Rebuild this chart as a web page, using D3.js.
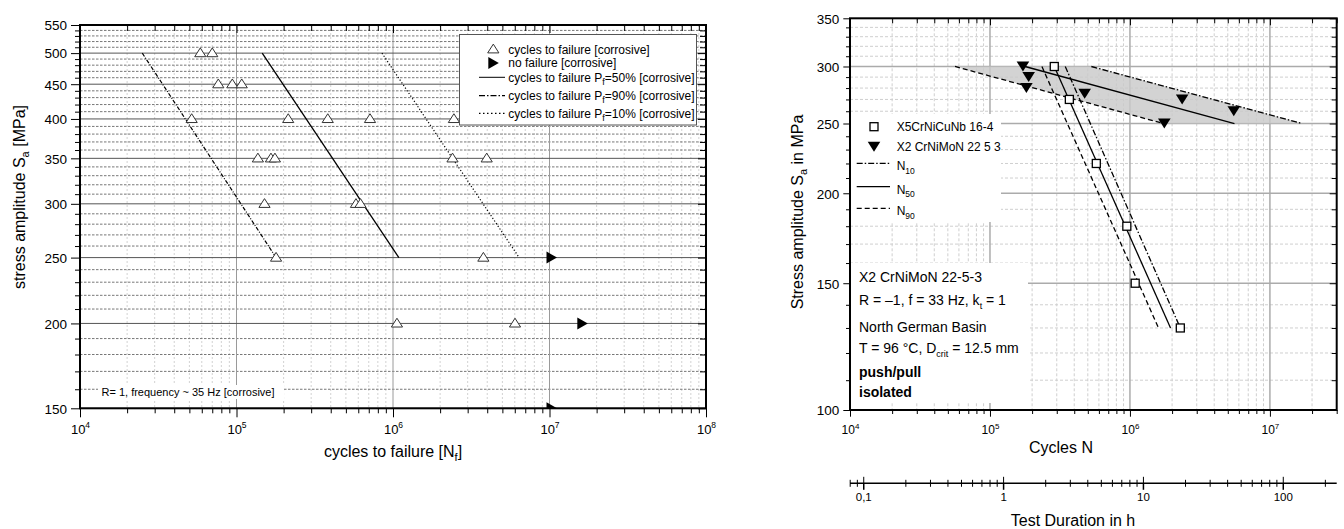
<!DOCTYPE html>
<html>
<head>
<meta charset="utf-8">
<script src="https://cdn.jsdelivr.net/npm/d3@7"></script>
<style>
html,body{margin:0;padding:0;background:#fff;}
svg{display:block;}
text{font-family:"Liberation Sans",Arial,Helvetica,sans-serif;fill:#000;}
</style>
</head>
<body>
<svg id="chart" width="1344" height="529"></svg>
<script>
// ---------------- Left chart data ----------------
const leftStressTicks = [150, 200, 250, 300, 350, 400, 450, 500, 550];
const leftCycleTicks = [1e4, 1e5, 1e6, 1e7, 1e8];
const leftCycleExps = ["4", "5", "6", "7", "8"];
const failureStress = [500, 500, 450, 450, 450, 400, 400, 400, 400, 400, 350, 350, 350, 350, 350, 300, 300, 300, 250, 250, 200, 200];
const failureCycles = [5.87e4, 7.0e4, 7.65e4, 9.4e4, 1.08e5, 5.17e4, 2.14e5, 3.83e5, 7.13e5, 2.45e6, 1.37e5, 1.66e5, 1.76e5, 2.4e6, 3.97e6, 1.51e5, 5.8e5, 6.2e5, 1.79e5, 3.78e6, 1.06e6, 6.02e6];
const runoutStress = [250, 200, 150];
const runoutCycles = [1.03e7, 1.62e7, 1.03e7];
const p50Stress = [500, 250];
const p50Cycles = [1.46e5, 1.09e6];
const p90Stress = [500, 250];
const p90Cycles = [2.5e4, 1.79e5];
const p10Stress = [500, 250];
const p10Cycles = [8.5e5, 6.4e6];

// ---------------- Right chart data ----------------
const rightStressTicks = [100, 150, 200, 250, 300, 350];
const rightCycleTicks = [1e4, 1e5, 1e6, 1e7];
const rightCycleExps = ["4", "5", "6", "7"];
const durationTicks = [0.1, 1, 10, 100];
const durationLabels = ["0,1", "1", "10", "100"];
const x5Stress = [300, 270, 220, 180, 150, 130];
const x5Cycles = [2.88e5, 3.69e5, 5.75e5, 9.5e5, 1.09e6, 2.29e6];
const x2Stress = [300, 290, 280, 275, 270, 260, 250];
const x2Cycles = [1.72e5, 1.89e5, 1.82e5, 4.75e5, 2.36e6, 5.52e6, 1.76e6];
const x5LineStress = [300, 130];
const x5N10Cycles = [3.45e5, 2.29e6];
const x5N50Cycles = [2.88e5, 1.95e6];
const x5N90Cycles = [2.35e5, 1.60e6];
const x2LineStress = [300, 250];
const x2N10Cycles = [5.3e5, 1.70e7];
const x2N50Cycles = [1.78e5, 5.58e6];
const x2N90Cycles = [5.63e4, 1.73e6];

// ---------------- helpers ----------------
const svg = d3.select("#chart");
const defs = svg.append("defs");
function addClip(id, x0, y0, x1, y1) {
  defs.append("clipPath").attr("id", id).append("rect")
    .attr("x", x0).attr("y", y0).attr("width", x1 - x0).attr("height", y1 - y0);
}
function logMinor(lo, hi) {
  const out = [];
  for (let e = Math.floor(Math.log10(lo)); e <= Math.ceil(Math.log10(hi)); e++) {
    for (let k = 2; k <= 9; k++) {
      const v = +(k * Math.pow(10, e)).toPrecision(6);
      if (v >= lo * 0.9999 && v <= hi * 1.0001) out.push(v);
    }
  }
  return out;
}
function logAll(lo, hi) {
  const out = [];
  for (let e = Math.floor(Math.log10(lo)); e <= Math.ceil(Math.log10(hi)); e++) {
    for (let k = 1; k <= 9; k++) {
      const v = +(k * Math.pow(10, e)).toPrecision(6);
      if (v >= lo * 0.9999 && v <= hi * 1.0001) out.push(v);
    }
  }
  return out;
}
function linMinor(lo, hi, step, major) {
  const out = [];
  for (let v = lo; v <= hi + 1e-9; v += step) if (v % major !== 0) out.push(v);
  return out;
}
function styleAxis(g) {
  g.select(".domain").remove();
  g.selectAll(".tick line").attr("stroke", "#000").attr("stroke-width", 1);
  g.attr("font-family", null);
  return g;
}
function zip(xs, ys) { return xs.map((x, i) => [x, ys[i]]); }

function drawGrid(g, xS, yS, box, xMin, xMaj, yMin, yMaj, st) {
  g.selectAll(null).data(xMin).join("line")
    .attr("x1", d => xS(d)).attr("x2", d => xS(d)).attr("y1", box.y0).attr("y2", box.y1)
    .attr("stroke", st.vMinor).attr("stroke-width", 1).attr("stroke-dasharray", st.vDash);
  g.selectAll(null).data(yMin).join("line")
    .attr("y1", d => yS(d)).attr("y2", d => yS(d)).attr("x1", box.x0).attr("x2", box.x1)
    .attr("stroke", st.hMinor).attr("stroke-width", 1).attr("stroke-dasharray", st.hDash);
  g.selectAll(null).data(xMaj).join("line")
    .attr("x1", d => xS(d)).attr("x2", d => xS(d)).attr("y1", box.y0).attr("y2", box.y1)
    .attr("stroke", st.vMajor).attr("stroke-width", st.majW);
  g.selectAll(null).data(yMaj).join("line")
    .attr("y1", d => yS(d)).attr("y2", d => yS(d)).attr("x1", box.x0).attr("x2", box.x1)
    .attr("stroke", st.hMajor).attr("stroke-width", st.majW);
}

function drawAxes(xS, yS, box, xMajor, xExps, yMajor, yMinorAll, xMinorAll, o) {
  // bottom minor
  styleAxis(svg.append("g").attr("transform", `translate(0,${box.y1})`)
    .call(d3.axisBottom(xS).tickValues(xMinorAll).tickSize(o.minOut).tickFormat("")));
  // bottom major with labels
  const bx = styleAxis(svg.append("g").attr("transform", `translate(0,${box.y1})`)
    .call(d3.axisBottom(xS).tickValues(xMajor).tickSize(o.majOut).tickFormat(() => "")));
  bx.selectAll(".tick text").attr("y", o.xLabY).attr("dy", null).attr("font-size", o.xLabSize)
    .each(function (d, i) {
      const t = d3.select(this);
      t.append("tspan").text("10");
      t.append("tspan").attr("dy", -o.xLabSize * 0.45).attr("font-size", o.supSize).text(xExps[i]);
    });
  // top inward
  styleAxis(svg.append("g").attr("transform", `translate(0,${box.y0})`)
    .call(d3.axisBottom(xS).tickValues(xMinorAll).tickSize(o.minIn).tickFormat("")));
  styleAxis(svg.append("g").attr("transform", `translate(0,${box.y0})`)
    .call(d3.axisBottom(xS).tickValues(xMajor).tickSize(o.majIn).tickFormat("")));
  // left minor
  styleAxis(svg.append("g").attr("transform", `translate(${box.x0},0)`)
    .call(d3.axisLeft(yS).tickValues(yMinorAll).tickSize(o.minOut).tickFormat("")));
  const ly = styleAxis(svg.append("g").attr("transform", `translate(${box.x0},0)`)
    .call(d3.axisLeft(yS).tickValues(yMajor).tickSize(o.majOut).tickPadding(4).tickFormat(d3.format("d"))));
  ly.selectAll(".tick text").attr("font-size", o.yLabSize).attr("dy", "0.36em");
  // right inward
  styleAxis(svg.append("g").attr("transform", `translate(${box.x1},0)`)
    .call(d3.axisLeft(yS).tickValues(yMinorAll).tickSize(o.minIn).tickFormat("")));
  styleAxis(svg.append("g").attr("transform", `translate(${box.x1},0)`)
    .call(d3.axisLeft(yS).tickValues(yMajor).tickSize(o.majIn).tickFormat("")));
  // frame
  svg.append("rect").attr("x", box.x0).attr("y", box.y0)
    .attr("width", box.x1 - box.x0).attr("height", box.y1 - box.y0)
    .attr("fill", "none").attr("stroke", "#000").attr("stroke-width", 2);
}

// =============== LEFT CHART ===============
const L = { x0: 80, x1: 706, y0: 25, y1: 408.3 };
const xL = d3.scaleLog().domain([1e4, 1e8]).range([L.x0, L.x1]);
const yL = d3.scaleLog().domain([150, 550]).range([L.y1, L.y0]);
addClip("clipL", L.x0, L.y0, L.x1, L.y1);

const gL = svg.append("g").attr("clip-path", "url(#clipL)");
drawGrid(gL, xL, yL, L,
  logMinor(1e4, 1e8), leftCycleTicks,
  linMinor(150, 550, 10, 50), leftStressTicks,
  { vMinor: "#d2d2d2", vDash: "2,2", hMinor: "#777", hDash: "2.5,1.5", vMajor: "#9a9a9a", hMajor: "#555", majW: 1 });

const lineL = d3.line().x(d => xL(d[0])).y(d => yL(d[1]));
gL.append("path").attr("d", lineL(zip(p50Cycles, p50Stress))).attr("fill", "none").attr("stroke", "#000").attr("stroke-width", 1.3);
gL.append("path").attr("d", lineL(zip(p90Cycles, p90Stress))).attr("fill", "none").attr("stroke", "#000").attr("stroke-width", 1.2).attr("stroke-dasharray", "4,1.5,1,1.5");
gL.append("path").attr("d", lineL(zip(p10Cycles, p10Stress))).attr("fill", "none").attr("stroke", "#000").attr("stroke-width", 1.2).attr("stroke-dasharray", "1.2,2");

const upTri = "M0,-5.2L5.6,3.6L-5.6,3.6Z";
const rightTri = "M-5,-6L5.5,0L-5,6Z";
gL.selectAll(".fail").data(zip(failureCycles, failureStress)).join("path")
  .attr("d", upTri).attr("transform", d => `translate(${xL(d[0])},${yL(d[1])})`)
  .attr("fill", "#fff").attr("stroke", "#333").attr("stroke-width", 1);
gL.selectAll(".run").data(zip(runoutCycles, runoutStress)).join("path")
  .attr("d", rightTri).attr("transform", d => `translate(${xL(d[0])},${yL(d[1])})`)
  .attr("fill", "#000");

// annotation
gL.append("rect").attr("x", 98).attr("y", 385).attr("width", 186).attr("height", 14).attr("fill", "#fff");
svg.append("text").attr("x", 101.5).attr("y", 396).attr("font-size", 11).text("R= 1, frequency ~ 35 Hz [corrosive]");

// legend
const lgL = svg.append("g");
lgL.append("rect").attr("x", 459.5).attr("y", 34.5).attr("width", 237).attr("height", 90.5)
  .attr("fill", "#fff").attr("stroke", "#555").attr("stroke-width", 1);
const legRowsL = [49.3, 63, 77.3, 95.7, 113.3];
lgL.append("path").attr("d", upTri).attr("transform", `translate(493.3,${legRowsL[0]})`).attr("fill", "#fff").attr("stroke", "#333");
lgL.append("path").attr("d", rightTri).attr("transform", `translate(493.3,${legRowsL[1]})`).attr("fill", "#000");
lgL.append("line").attr("x1", 479).attr("x2", 505).attr("y1", legRowsL[2]).attr("y2", legRowsL[2]).attr("stroke", "#000").attr("stroke-width", 1);
lgL.append("line").attr("x1", 479).attr("x2", 505).attr("y1", legRowsL[3]).attr("y2", legRowsL[3]).attr("stroke", "#000").attr("stroke-width", 1.2).attr("stroke-dasharray", "6,2,1.5,2");
lgL.append("line").attr("x1", 479).attr("x2", 505).attr("y1", legRowsL[4]).attr("y2", legRowsL[4]).attr("stroke", "#000").attr("stroke-width", 1.2).attr("stroke-dasharray", "1.5,2.5");
lgL.append("text").attr("x", 508.3).attr("y", legRowsL[0] + 4.2).attr("font-size", 12).text("cycles to failure [corrosive]");
lgL.append("text").attr("x", 508.3).attr("y", legRowsL[1] + 4.2).attr("font-size", 12).text("no failure [corrosive]");
[["50", 2], ["90", 3], ["10", 4]].forEach(([p, r]) => {
  const t = lgL.append("text").attr("x", 508.3).attr("y", legRowsL[r] + 4.2).attr("font-size", 12);
  t.append("tspan").text("cycles to failure P");
  t.append("tspan").attr("dy", 3).attr("font-size", 9).text("f");
  t.append("tspan").attr("dy", -3).text(`=${p}% [corrosive]`);
});

drawAxes(xL, yL, L, leftCycleTicks, leftCycleExps, leftStressTicks, linMinor(150, 550, 10, 50), logMinor(1e4, 1e8),
  { minOut: 5, majOut: 9, minIn: 6, majIn: 8, xLabY: 25.7, xLabSize: 13, supSize: 8.5, yLabSize: 13.5 });

// titles
const tl = svg.append("text").attr("text-anchor", "middle").attr("font-size", 16)
  .attr("transform", "translate(25,197) rotate(-90)");
tl.append("tspan").text("stress amplitude S");
tl.append("tspan").attr("dy", 4).attr("font-size", 11).text("a");
tl.append("tspan").attr("dy", -4).text(" [MPa]");
const txl = svg.append("text").attr("text-anchor", "middle").attr("font-size", 16).attr("x", 393).attr("y", 457);
txl.append("tspan").text("cycles to failure [N");
txl.append("tspan").attr("dy", 4).attr("font-size", 11).text("f");
txl.append("tspan").attr("dy", -4).text("]");

// =============== RIGHT CHART ===============
const R = { x0: 850, x1: 1336.7, y0: 18.3, y1: 410 };
const xR = d3.scaleLog().domain([1e4, 3e7]).range([R.x0, R.x1]);
const yR = d3.scaleLog().domain([100, 350]).range([R.y1, R.y0]);
const xD = d3.scaleLog().domain([0.0804, 243]).range([R.x0, R.x1]);
addClip("clipR", R.x0, R.y0, R.x1, R.y1);

const gR = svg.append("g").attr("clip-path", "url(#clipR)");
drawGrid(gR, xR, yR, R,
  logMinor(1e4, 3e7), rightCycleTicks,
  linMinor(100, 350, 10, 50), rightStressTicks,
  { vMinor: "#cfcfcf", vDash: "3,2", hMinor: "#cfcfcf", hDash: "3,2", vMajor: "#ababab", hMajor: "#ababab", majW: 1.5 });

const lineR = d3.line().x(d => xR(d[0])).y(d => yR(d[1]));
// scatter band between N90 and N10 of X2 CrNiMoN
const band = [[x2N90Cycles[0], x2LineStress[0]], [x2N10Cycles[0], x2LineStress[0]], [x2N10Cycles[1], x2LineStress[1]], [x2N90Cycles[1], x2LineStress[1]]];
gR.append("path").attr("d", lineR(band) + "Z").attr("fill", "#c9c9c9").attr("opacity", 0.82);

const dashDot = "6,2,1.5,2";
const dashed = "5,3";
function rLine(cyc, str, dash) {
  gR.append("path").attr("d", lineR(zip(cyc, str))).attr("fill", "none").attr("stroke", "#000")
    .attr("stroke-width", 1.3).attr("stroke-dasharray", dash);
}
rLine(x2N10Cycles, x2LineStress, dashDot);
rLine(x2N50Cycles, x2LineStress, null);
rLine(x2N90Cycles, x2LineStress, dashed);
rLine(x5N10Cycles, x5LineStress, dashDot);
rLine(x5N50Cycles, x5LineStress, null);
rLine(x5N90Cycles, x5LineStress, dashed);

const downTri = "M-6.3,-5L6.3,-5L0,5Z";
gR.selectAll(".x2").data(zip(x2Cycles, x2Stress)).join("path")
  .attr("d", downTri).attr("transform", d => `translate(${xR(d[0])},${yR(d[1])})`).attr("fill", "#000");
gR.selectAll(".x5").data(zip(x5Cycles, x5Stress)).join("rect")
  .attr("x", d => xR(d[0]) - 4).attr("y", d => yR(d[1]) - 4).attr("width", 8).attr("height", 8)
  .attr("fill", "#fff").attr("stroke", "#000").attr("stroke-width", 1.3);

// legend
gR.append("rect").attr("x", 850).attr("y", 114).attr("width", 151).attr("height", 108).attr("fill", "#fff");
const lgR = svg.append("g");
lgR.append("rect").attr("x", 870).attr("y", 122.7).attr("width", 8).attr("height", 8).attr("fill", "#fff").attr("stroke", "#000").attr("stroke-width", 1.3);
lgR.append("path").attr("d", downTri).attr("transform", "translate(874,146.7)").attr("fill", "#000");
lgR.append("text").attr("x", 896.7).attr("y", 131).attr("font-size", 12).text("X5CrNiCuNb 16-4");
lgR.append("text").attr("x", 896.7).attr("y", 151).attr("font-size", 12).text("X2 CrNiMoN 22 5 3");
[[163.3, dashDot, "10"], [186.7, null, "50"], [208.3, dashed, "90"]].forEach(([y, dash, sub]) => {
  lgR.append("line").attr("x1", 856.7).attr("x2", 890).attr("y1", y).attr("y2", y)
    .attr("stroke", "#000").attr("stroke-width", 1.3).attr("stroke-dasharray", dash);
  const t = lgR.append("text").attr("x", 896.7).attr("y", y + 7).attr("font-size", 12);
  t.append("tspan").text("N");
  t.append("tspan").attr("dy", 3.5).attr("font-size", 8.5).text(sub);
});

// annotation block
gR.append("rect").attr("x", 850).attr("y", 263).attr("width", 178).attr("height", 140).attr("fill", "#fff");
const ann = svg.append("g").attr("font-size", 14);
ann.append("text").attr("x", 859).attr("y", 281.7).attr("font-size", 14).text("X2 CrNiMoN 22-5-3");
const a2 = ann.append("text").attr("x", 859).attr("y", 305).attr("font-size", 14);
a2.append("tspan").text("R = \u20131, f = 33 Hz, k");
a2.append("tspan").attr("dy", 3.5).attr("font-size", 9).text("t");
a2.append("tspan").attr("dy", -3.5).text(" = 1");
ann.append("text").attr("x", 859).attr("y", 331.7).attr("font-size", 14).text("North German Basin");
const a4 = ann.append("text").attr("x", 859).attr("y", 353.3).attr("font-size", 14);
a4.append("tspan").text("T = 96 \u00B0C, D");
a4.append("tspan").attr("dy", 3.5).attr("font-size", 9).text("crit");
a4.append("tspan").attr("dy", -3.5).text(" = 12.5 mm");
ann.append("text").attr("x", 859).attr("y", 376.5).attr("font-size", 14).attr("font-weight", "bold").text("push/pull");
ann.append("text").attr("x", 859).attr("y", 396.7).attr("font-size", 14).attr("font-weight", "bold").text("isolated");

drawAxes(xR, yR, R, rightCycleTicks, rightCycleExps, rightStressTicks, linMinor(100, 350, 10, 50), logMinor(1e4, 3e7),
  { minOut: 4, majOut: 6.7, minIn: 5, majIn: 7, xLabY: 24, xLabSize: 12, supSize: 8, yLabSize: 13.5 });

const tr = svg.append("text").attr("text-anchor", "middle").attr("font-size", 16)
  .attr("transform", "translate(803,212) rotate(-90)");
tr.append("tspan").text("Stress amplitude S");
tr.append("tspan").attr("dy", 4).attr("font-size", 11).text("a");
tr.append("tspan").attr("dy", -4).text(" in MPa");
svg.append("text").attr("text-anchor", "middle").attr("font-size", 16).attr("x", 1061).attr("y", 452.5).text("Cycles N");

// duration axis
const DY = 483.3;
svg.append("line").attr("x1", R.x0).attr("x2", R.x1).attr("y1", DY).attr("y2", DY).attr("stroke", "#000").attr("stroke-width", 1.5);
const durMinor = logAll(0.08, 243).filter(v => !durationTicks.includes(v));
[d3.axisBottom, d3.axisTop].forEach(fn => {
  styleAxis(svg.append("g").attr("transform", `translate(0,${DY})`)
    .call(fn(xD).tickValues(durMinor).tickSize(3.5).tickFormat("")));
});
styleAxis(svg.append("g").attr("transform", `translate(0,${DY})`)
  .call(d3.axisTop(xD).tickValues(durationTicks).tickSize(6.5).tickFormat("")));
const dAx = styleAxis(svg.append("g").attr("transform", `translate(0,${DY})`)
  .call(d3.axisBottom(xD).tickValues(durationTicks).tickSize(6.5).tickFormat((d, i) => durationLabels[i])));
dAx.selectAll(".tick line").attr("stroke-width", 1.5);
dAx.selectAll(".tick text").attr("font-size", 11.5).attr("y", 18).attr("dy", null);
svg.append("text").attr("text-anchor", "middle").attr("font-size", 16).attr("x", 1073).attr("y", 526).text("Test Duration in h");
</script>
</body>
</html>
